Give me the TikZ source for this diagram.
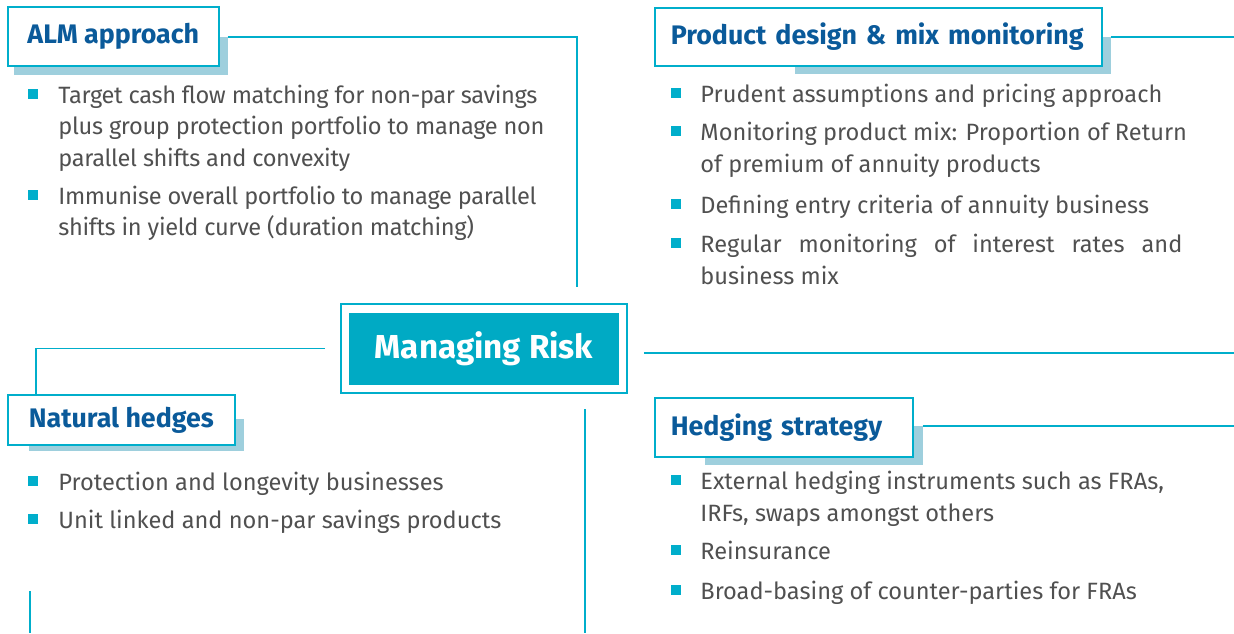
\documentclass[tikz,border=0pt]{standalone}
\usepackage{fontspec}
\setmainfont{Fira Sans}
\usetikzlibrary{positioning, calc, backgrounds}
\definecolor{riskteal}{HTML}{00AECB}
\definecolor{shadowblue}{HTML}{9ECFDD}
\definecolor{headblue}{HTML}{0A5A9A}
\definecolor{bodygray}{HTML}{505050}
\definecolor{riskfill}{HTML}{00AAC4}

\tikzset{
  link/.style={draw=riskteal, line width=0.8pt},
  shade/.style={fill=shadowblue},
  headbox/.style={draw=riskteal, fill=white, line width=0.8pt, anchor=north west,
    inner sep=0pt, text=headblue, font=\bfseries\fontsize{13.4}{15}\selectfont},
  lefthead/.style={headbox, inner xsep=8pt, align=left},
  item/.style={anchor=base west, align=left, inner sep=0pt, text=bodygray,
    font=\fontsize{11.8}{15.75}\selectfont},
  tightitem/.style={item, font=\fontsize{11.8}{15.75}\selectfont\addfontfeature{LetterSpace=-1.4}},
  sq/.style={fill=riskteal, minimum size=5pt, inner sep=0pt, anchor=south west}
}

\begin{document}
\begin{tikzpicture}[x=0.5pt, y=-0.5pt]
  \useasboundingbox (0,0) rectangle (1234,633);

  % Heading boxes
  \node[headbox, minimum width=105.5pt, minimum height=29.5pt] (alm) at (7,6) {ALM approach};
  \node[lefthead, text width=207.5pt, minimum height=29pt] (prod) at (654,7) {Product design \& mix monitoring};
  \node[headbox, minimum width=113.5pt, minimum height=25pt] (nat) at (7,394) {Natural hedges};
  \node[lefthead, text width=113pt, minimum height=29.5pt] (hedge) at (654,397) {Hedging strategy};

  % Shadows behind the boxes
  \begin{scope}[on background layer]
    \fill[shade] ($(alm.south west)+(7,8)$) rectangle ($(alm.north east)+(8,31)$);
    \fill[shade] ($(prod.south west)+(141,7)$) rectangle ($(prod.north east)+(8,30)$);
    \fill[shade] ($(nat.south west)+(22,5)$) rectangle ($(nat.north east)+(8,25)$);
    \fill[shade] ($(hedge.south west)+(51,7)$) rectangle ($(hedge.north east)+(9,29)$);
  \end{scope}

  % Centre box
  \node[draw=riskteal, line width=0.8pt, minimum width=143pt, minimum height=44.5pt] (riskframe) at (484,348.5) {};
  \node[fill=riskfill, minimum width=135pt, minimum height=36pt, text=white,
    font=\bfseries\fontsize{16.6}{19}\selectfont] (risk) at (riskframe.center) {Managing Risk};

  % Connectors
  \coordinate (almout) at ($(alm.north east)+(8,31)$);
  \coordinate (almend) at (577,287);
  \coordinate (prodout) at ($(prod.north east)+(8,30)$);
  \coordinate (prodend) at (1234,37);
  \coordinate (hedgeout) at ($(hedge.north east)+(9,29)$);
  \coordinate (hedgeend) at (1234,426);
  \coordinate (riskR) at ($(riskframe.east)+(16,4.5)$);
  \coordinate (riskRend) at (1234,353);
  \coordinate (riskL) at ($(riskframe.west)+(-15,0)$);
  \coordinate (natin) at ($(nat.north west)+(29,0)$);
  \coordinate (midtop) at (585,409);
  \coordinate (midend) at (585,633);
  \coordinate (lefttop) at (30,591);
  \coordinate (leftend) at (30,633);

  \draw[link] (almout) -| (almend);
  \draw[link] (prodout) -- (prodend);
  \draw[link] (hedgeout) -- (hedgeend);
  \draw[link] (riskR) -- (riskRend);
  \draw[link] (riskL) -| (natin);
  \draw[link] (midtop) -- (midend);
  \draw[link] (lefttop) -- (leftend);

  % Bullet texts (base = baseline of last line)
  \node[tightitem] (a1) at (58,166) {Target cash flow matching for non-par savings\\plus group protection portfolio to manage non\\parallel shifts and convexity};
  \node[tightitem] (a2) at (58,235.5) {Immunise overall portfolio to manage parallel\\shifts in yield curve (duration matching)};
  \node[item] (p1) at (700,102) {Prudent assumptions and pricing approach};
  \node[item] (p2) at (700,172) {Monitoring product mix: Proportion of Return\\of premium of annuity products};
  \node[item] (p3) at (700,213) {Defining entry criteria of annuity business};
  \node[item] (p4) at (700,284) {\makebox[241pt][s]{Regular monitoring of interest rates and}\\business mix};
  \node[item] (n1) at (58,490) {Protection and longevity businesses};
  \node[item] (n2) at (58,528) {Unit linked and non-par savings products};
  \node[item] (h1) at (700,521) {External hedging instruments such as FRAs,\\IRFs, swaps amongst others};
  \node[item] (h2) at (700,559) {Reinsurance};
  \node[item] (h3) at (700,599) {Broad-basing of counter-parties for FRAs};

  % Square bullets, on the first line of each item
  \foreach \n/\k in {a1/2, a2/1, n1/0, n2/0}
    \node[sq] (sq-\n) at ($(\n.base west)+(-30,-4-31.5*\k)$) {};
  \foreach \n/\k in {p1/0, p2/1, p3/0, p4/1, h1/1, h2/0, h3/0}
    \node[sq] (sq-\n) at ($(\n.base west)+(-29,-4-32*\k)$) {};
\end{tikzpicture}
\end{document}
